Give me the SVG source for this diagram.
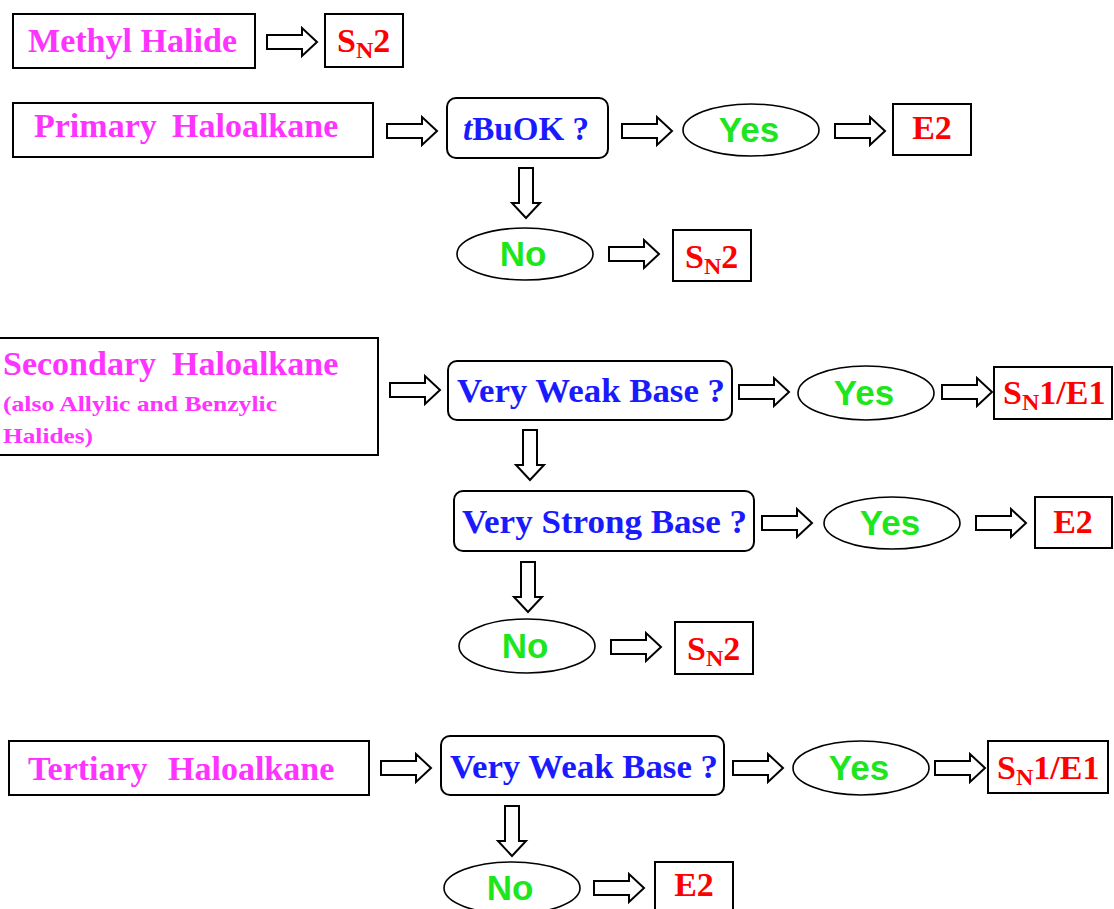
<svg xmlns="http://www.w3.org/2000/svg" xmlns:xlink="http://www.w3.org/1999/xlink" width="1114" height="909" viewBox="0 0 1114 909">
<style>
.box{fill:#fff;stroke:#000;stroke-width:2}
.ell{fill:#fff;stroke:#000;stroke-width:1.6}
.arr{fill:#fff;stroke:#000;stroke-width:2;stroke-linejoin:miter}
.mag{font-family:"Liberation Serif",serif;font-weight:bold;fill:#ff33ff;font-size:34px}
.small{font-size:21px}
.blu{font-family:"Liberation Serif",serif;font-weight:bold;fill:#1a1aff;font-size:34px}
.red{font-family:"Liberation Serif",serif;font-weight:bold;fill:#ff0000;font-size:34px}
.sub{font-size:24px}
.grn{font-family:"Liberation Sans",sans-serif;font-weight:bold;fill:#1ee61e;font-size:35px;text-anchor:middle}
</style>
<defs>
<path id="ra" class="arr" d="M0,-7 H35 V-14 L50,0 L35,14 V7 H0 Z"/>
<path id="da" class="arr" d="M-7,0 V35 H-14 L0,50 L14,35 H7 V0 Z"/>
</defs>
<rect width="1114" height="909" fill="#fff"/>
<g id="connectors">
<use xlink:href="#ra" x="267" y="42"/>
<use xlink:href="#ra" x="387" y="131"/>
<use xlink:href="#ra" x="622" y="131"/>
<use xlink:href="#ra" x="835" y="131"/>
<use xlink:href="#da" x="526" y="168"/>
<use xlink:href="#ra" x="609" y="254"/>
<use xlink:href="#ra" x="390" y="390"/>
<use xlink:href="#ra" x="739" y="392"/>
<use xlink:href="#ra" x="942" y="392"/>
<use xlink:href="#da" x="530" y="430"/>
<use xlink:href="#ra" x="762" y="523"/>
<use xlink:href="#ra" x="976" y="523"/>
<use xlink:href="#da" x="528" y="562"/>
<use xlink:href="#ra" x="611" y="647"/>
<use xlink:href="#ra" x="381" y="768"/>
<use xlink:href="#ra" x="733" y="768"/>
<use xlink:href="#ra" x="935" y="768"/>
<use xlink:href="#da" x="512" y="806"/>
<use xlink:href="#ra" x="594" y="888"/>
</g>
<g id="methyl"><rect class="box" x="13" y="14" width="242" height="54"/><text class="mag" x="28" y="52" textLength="209" lengthAdjust="spacingAndGlyphs">Methyl Halide</text></g>
<g id="methyl-sn2"><rect class="box" x="325" y="14" width="78" height="53"/><text class="red" x="337" y="52">S<tspan class="sub" dy="6">N</tspan><tspan dy="-6">2</tspan></text></g>
<g id="primary"><rect class="box" x="13" y="103" width="360" height="54"/><text class="mag" y="137"><tspan x="34">Primary</tspan><tspan x="172">Haloalkane</tspan></text></g>
<g id="tbuok"><rect class="box" x="447" y="98" width="161" height="60" rx="9"/><text class="blu" x="463" y="140" textLength="126" lengthAdjust="spacingAndGlyphs"><tspan font-style="italic">t</tspan>BuOK ?</text></g>
<g id="yes1"><ellipse class="ell" cx="751" cy="130" rx="68" ry="26"/><text class="grn" x="749" y="142">Yes</text></g>
<g id="e2-1"><rect class="box" x="893" y="104" width="78" height="51"/><text class="red" x="932" y="139" text-anchor="middle">E2</text></g>
<g id="no1"><ellipse class="ell" cx="525" cy="254" rx="68" ry="26"/><text class="grn" x="523" y="266">No</text></g>
<g id="sn2-1"><rect class="box" x="673" y="230" width="78" height="51"/><text class="red" x="685" y="268">S<tspan class="sub" dy="6">N</tspan><tspan dy="-6">2</tspan></text></g>
<g id="secondary"><rect class="box" x="-2" y="338" width="380" height="117"/><text class="mag" y="375"><tspan x="3">Secondary</tspan><tspan x="172">Haloalkane</tspan></text><text class="mag small" x="3" y="411" textLength="274" lengthAdjust="spacingAndGlyphs">(also Allylic and Benzylic</text><text class="mag small" x="3" y="443" textLength="90" lengthAdjust="spacingAndGlyphs">Halides)</text></g>
<g id="vwb1"><rect class="box" x="448" y="361" width="284" height="59" rx="9"/><text class="blu" x="457" y="402" textLength="268" lengthAdjust="spacingAndGlyphs">Very Weak Base ?</text></g>
<g id="yes2"><ellipse class="ell" cx="866" cy="393" rx="68" ry="27"/><text class="grn" x="864" y="405">Yes</text></g>
<g id="sn1e1-1"><rect class="box" x="994" y="367" width="118" height="52"/><text class="red" x="1003" y="404">S<tspan class="sub" dy="6">N</tspan><tspan dy="-6">1/E1</tspan></text></g>
<g id="vsb"><rect class="box" x="454" y="491" width="300" height="60" rx="9"/><text class="blu" x="462" y="533" textLength="285" lengthAdjust="spacingAndGlyphs">Very Strong Base ?</text></g>
<g id="yes3"><ellipse class="ell" cx="892" cy="523" rx="68" ry="26"/><text class="grn" x="890" y="535">Yes</text></g>
<g id="e2-2"><rect class="box" x="1035" y="497" width="77" height="51"/><text class="red" x="1073" y="533" text-anchor="middle">E2</text></g>
<g id="no2"><ellipse class="ell" cx="527" cy="646" rx="68" ry="27"/><text class="grn" x="525" y="658">No</text></g>
<g id="sn2-2"><rect class="box" x="675" y="622" width="78" height="52"/><text class="red" x="687" y="660">S<tspan class="sub" dy="6">N</tspan><tspan dy="-6">2</tspan></text></g>
<g id="tertiary"><rect class="box" x="9" y="741" width="360" height="54"/><text class="mag" y="780"><tspan x="28">Tertiary</tspan><tspan x="168">Haloalkane</tspan></text></g>
<g id="vwb2"><rect class="box" x="441" y="736" width="283" height="59" rx="9"/><text class="blu" x="450" y="778" textLength="268" lengthAdjust="spacingAndGlyphs">Very Weak Base ?</text></g>
<g id="yes4"><ellipse class="ell" cx="861" cy="768" rx="68" ry="27"/><text class="grn" x="859" y="780">Yes</text></g>
<g id="sn1e1-2"><rect class="box" x="988" y="741" width="120" height="52"/><text class="red" x="997" y="779">S<tspan class="sub" dy="6">N</tspan><tspan dy="-6">1/E1</tspan></text></g>
<g id="no3"><ellipse class="ell" cx="512" cy="888" rx="68" ry="26"/><text class="grn" x="510" y="900">No</text></g>
<g id="e2-3"><rect class="box" x="655" y="862" width="78" height="52"/><text class="red" x="694" y="896" text-anchor="middle">E2</text></g>
</svg>
